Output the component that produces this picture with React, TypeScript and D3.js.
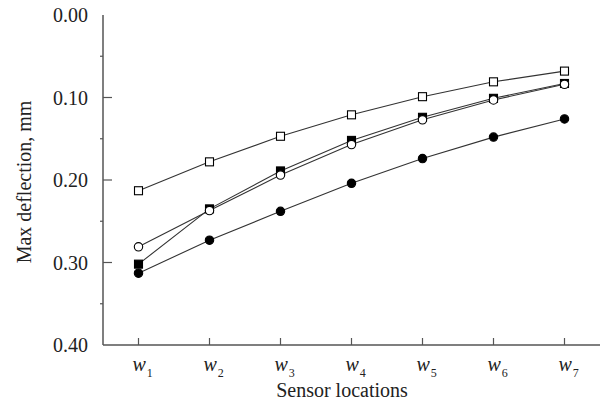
import {useEffect, useRef} from "react";
import * as d3 from "d3";

const locations = [1, 2, 3, 4, 5, 6, 7];
const openSquare = [0.213, 0.178, 0.147, 0.121, 0.099, 0.081, 0.068];
const filledSquare = [0.302, 0.235, 0.189, 0.152, 0.124, 0.101, 0.083];
const openCircle = [0.281, 0.237, 0.194, 0.157, 0.127, 0.103, 0.084];
const filledCircle = [0.313, 0.273, 0.238, 0.204, 0.174, 0.148, 0.126];
const yTicks = [0, 0.1, 0.2, 0.3, 0.4];
const yMinor = [0.05, 0.15, 0.25, 0.35];

const App = () => {
    const ref = useRef<SVGSVGElement>(null);

    useEffect(() => {
        const svg = d3.select(ref.current);
        svg.selectAll("*").remove();

        const left = 103, right = 600, top = 15, bottom = 345;
        const x = d3.scaleLinear().domain([0.5, 7.5]).range([left, right]);
        const y = d3.scaleLinear().domain([0, 0.4]).range([top, bottom]);
        const font = "'Liberation Serif', 'Times New Roman', serif";
        const col = "#333";

        // axes
        svg.append("line").attr("x1", left).attr("x2", left).attr("y1", top).attr("y2", bottom)
            .attr("stroke", "#555").attr("stroke-width", 1.5);
        svg.append("line").attr("x1", left).attr("x2", right).attr("y1", bottom).attr("y2", bottom)
            .attr("stroke", "#555").attr("stroke-width", 1.5);

        yTicks.forEach(t => {
            if (t > 0 && t < 0.4) {
                svg.append("line").attr("x1", left).attr("x2", left + 9).attr("y1", y(t)).attr("y2", y(t))
                    .attr("stroke", "#555").attr("stroke-width", 1.2);
            }
            svg.append("text").attr("x", 88).attr("y", y(t)).attr("dy", "0.35em")
                .attr("text-anchor", "end").attr("font-family", font).attr("font-size", 20)
                .attr("fill", "#222").text(d3.format(".2f")(t));
        });
        yMinor.forEach(t => {
            svg.append("line").attr("x1", left - 3).attr("x2", left).attr("y1", y(t)).attr("y2", y(t))
                .attr("stroke", "#555").attr("stroke-width", 1.2);
        });

        locations.forEach(l => {
            svg.append("line").attr("x1", x(l)).attr("x2", x(l)).attr("y1", bottom).attr("y2", bottom - 7)
                .attr("stroke", "#555").attr("stroke-width", 1.2);
            const t = svg.append("text").attr("x", x(l) - 6).attr("y", 371)
                .attr("text-anchor", "start").attr("font-family", font).attr("font-size", 20).attr("fill", "#222");
            t.append("tspan").attr("font-style", "italic").text("w");
            t.append("tspan").attr("font-size", 12).attr("dy", 6).attr("dx", 1).text(String(l));
        });

        svg.append("text").attr("x", 342).attr("y", 397).attr("text-anchor", "middle")
            .attr("font-family", font).attr("font-size", 20).attr("fill", "#222").text("Sensor locations");
        svg.append("text").attr("transform", `translate(31,${(top + bottom) / 2 + 2}) rotate(-90)`)
            .attr("text-anchor", "middle").attr("font-family", font).attr("font-size", 20)
            .attr("fill", "#222").text("Max deflection, mm");

        const line = d3.line<number>().x((d, i) => x(locations[i])).y(d => y(d));
        const series = [
            {values: openSquare, shape: "square", fill: "white"},
            {values: filledSquare, shape: "square", fill: "black"},
            {values: openCircle, shape: "circle", fill: "white"},
            {values: filledCircle, shape: "circle", fill: "black"},
        ];

        series.forEach(s => {
            svg.append("path").attr("d", line(s.values)).attr("fill", "none")
                .attr("stroke", col).attr("stroke-width", 1.1);
        });
        series.forEach(s => {
            const g = svg.append("g");
            s.values.forEach((v, i) => {
                if (s.shape === "square") {
                    g.append("rect").attr("x", x(locations[i]) - 4).attr("y", y(v) - 4)
                        .attr("width", 8).attr("height", 8).attr("fill", s.fill)
                        .attr("stroke", "black").attr("stroke-width", 1.1);
                } else {
                    g.append("circle").attr("cx", x(locations[i])).attr("cy", y(v)).attr("r", 4.2)
                        .attr("fill", s.fill).attr("stroke", "black").attr("stroke-width", 1.1);
                }
            });
        });
    }, []);

    return (
        <div style={{position: "absolute", left: 0, top: 0}}>
            <svg ref={ref} width={603} height={408} style={{display: "block", background: "white"}}></svg>
        </div>
    );
};

export default App;
